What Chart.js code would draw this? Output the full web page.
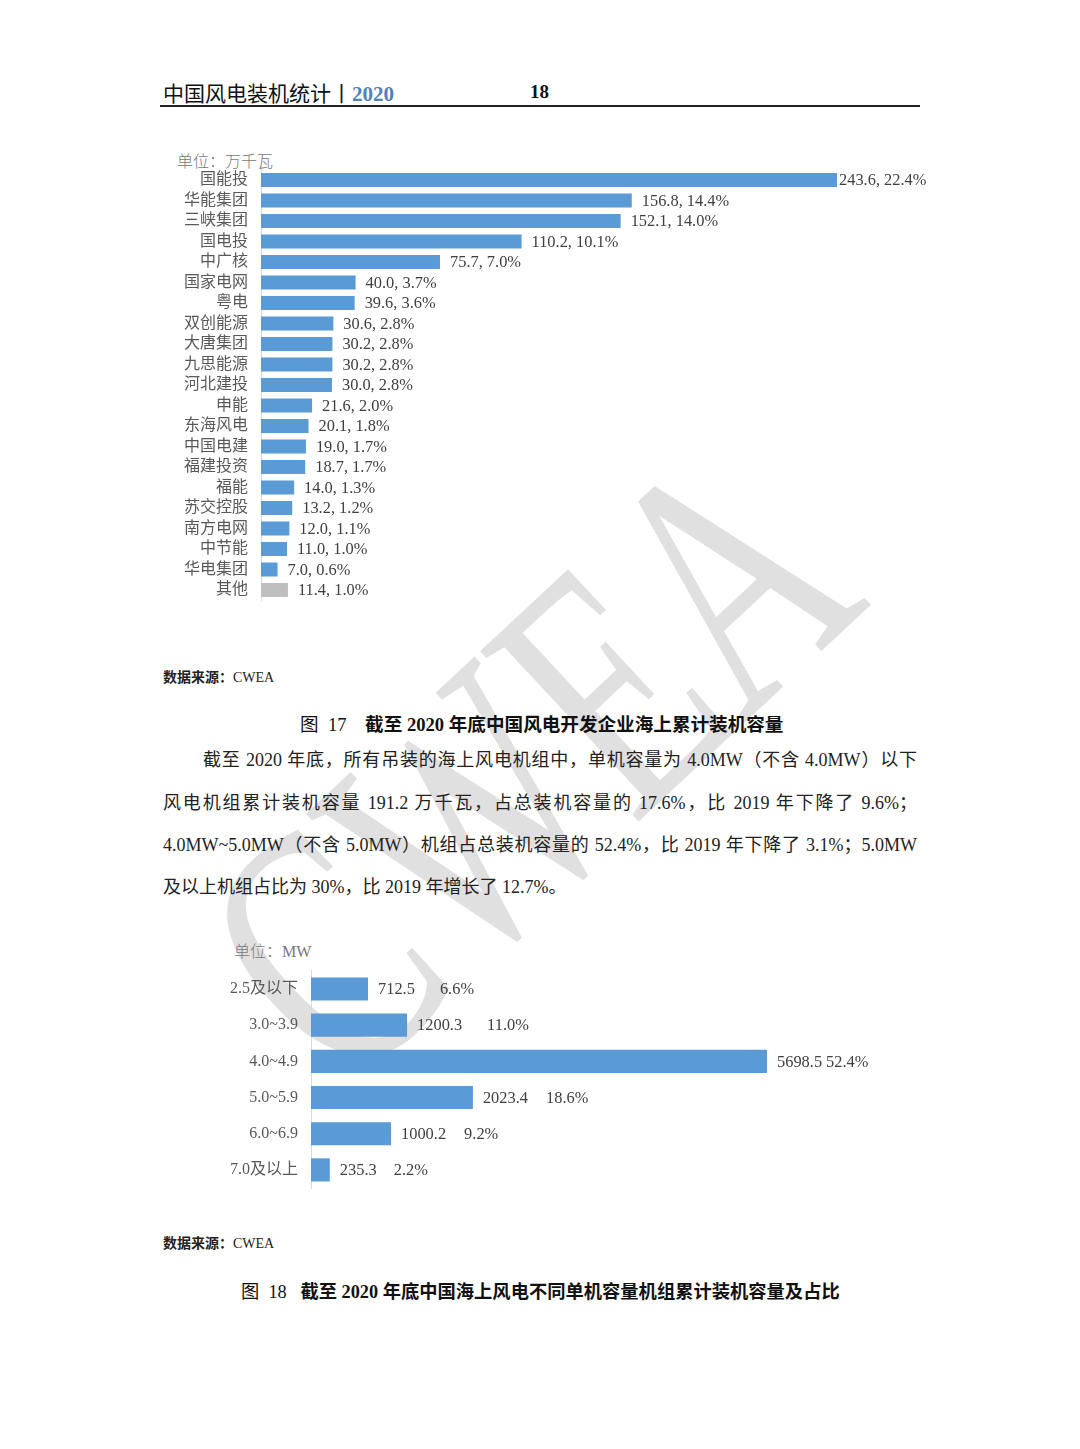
<!DOCTYPE html>
<html>
<head>
<meta charset="utf-8">
<script src="https://cdn.jsdelivr.net/npm/chart.js@4/dist/chart.umd.min.js"></script>
<style>
  html, body { margin: 0; padding: 0; background: #fff; }
  body { width: 1080px; height: 1449px; position: relative; overflow: hidden;
         font-family: 'Liberation Serif', 'Noto Sans CJK SC', serif; color: #222; }
  .abs { position: absolute; white-space: nowrap; }
  .mark { position: absolute; left: 527px; top: 762px; line-height: 1;
          transform: translate(-50%, -50%) rotate(-43deg) scale(1, 1.45);
          font-family: 'Liberation Serif', serif; font-size: 245px; color: #e0e0e0; z-index: 0;
          white-space: nowrap; }
  .box { position: absolute; z-index: 1; }
  .para { position: absolute; z-index: 1; font-size: 18px; line-height: 24px; text-align: justify;
          text-align-last: justify; white-space: nowrap; color: #222; }
  .cap { position: absolute; z-index: 1; line-height: 24px; font-weight: bold; color: #111; white-space: nowrap;
         font-family: 'Liberation Serif', 'Noto Sans CJK SC'; }
  .cap span { font-weight: normal; }
</style>
</head>
<body>
<div class="mark">CWEA</div>

<div class="abs" style="left:163px;top:79px;line-height:26px;font-size:21px;font-family:'Noto Sans CJK SC';color:#111;">
  中国风电装机统计丨<span style="font-family:'Liberation Serif';font-weight:bold;color:#4F81BD;">2020</span>
</div>
<div class="abs" style="left:530px;top:80px;line-height:24px;font-size:19px;font-weight:bold;color:#111;">18</div>
<div class="abs" style="left:160px;top:105px;width:760px;height:2px;background:#222;"></div>

<div class="abs" style="left:177px;top:149px;line-height:22px;font-size:16px;color:#777;font-family:'Noto Sans CJK SC';font-weight:300;">单位：万千瓦</div>
<div class="box" style="left:150px;top:150px;width:790px;height:460px;"><canvas id="c1"></canvas></div>

<div class="abs" style="left:163px;top:666px;line-height:20px;font-size:14px;color:#222;"><span style="font-family:'Noto Sans CJK SC';font-weight:bold;">数据来源：</span>CWEA</div>
<div class="cap" style="left:300px;top:713px;font-size:18.6px;"><span>图&nbsp;&nbsp;17</span>&nbsp;&nbsp;&nbsp;&nbsp;截至 2020 年底中国风电开发企业海上累计装机容量</div>

<div class="para" style="left:203px;top:748px;width:714px;">截至 2020 年底，所有吊装的海上风电机组中，单机容量为 4.0MW（不含 4.0MW）以下</div>
<div class="para" style="left:163px;top:791px;width:754px;">风电机组累计装机容量 191.2 万千瓦，占总装机容量的 17.6%，比 2019 年下降了 9.6%；</div>
<div class="para" style="left:163px;top:833px;width:754px;">4.0MW~5.0MW（不含 5.0MW）机组占总装机容量的 52.4%，比 2019 年下降了 3.1%；5.0MW</div>
<div class="para" style="left:163px;top:875px;text-align-last:left;">及以上机组占比为 30%，比 2019 年增长了 12.7%。</div>

<div class="abs" style="left:234px;top:939px;line-height:22px;font-size:16px;color:#777;font-family:'Noto Sans CJK SC';font-weight:300;">单位：<span style="font-family:'Liberation Serif'">MW</span></div>
<div class="box" style="left:150px;top:940px;width:790px;height:260px;"><canvas id="c2"></canvas></div>

<div class="abs" style="left:163px;top:1232px;line-height:20px;font-size:14px;color:#222;"><span style="font-family:'Noto Sans CJK SC';font-weight:bold;">数据来源：</span>CWEA</div>
<div class="cap" style="left:241px;top:1280px;font-size:18.3px;"><span>图&nbsp;&nbsp;18</span>&nbsp;&nbsp;&nbsp;截至 2020 年底中国海上风电不同单机容量机组累计装机容量及占比</div>

<script>
// Fig 17: developer offshore cumulative capacity (万千瓦)
const devNames = ['国能投', '华能集团', '三峡集团', '国电投', '中广核', '国家电网', '粤电', '双创能源', '大唐集团',
  '九思能源', '河北建投', '申能', '东海风电', '中国电建', '福建投资', '福能', '苏交控股', '南方电网', '中节能', '华电集团', '其他'];
const devValues = [243.6, 156.8, 152.1, 110.2, 75.7, 40.0, 39.6, 30.6, 30.2, 30.2, 30.0, 21.6, 20.1, 19.0, 18.7, 14.0, 13.2, 12.0, 11.0, 7.0, 11.4];
const devShares = ['22.4%', '14.4%', '14.0%', '10.1%', '7.0%', '3.7%', '3.6%', '2.8%', '2.8%', '2.8%', '2.8%', '2.0%', '1.8%', '1.7%', '1.7%', '1.3%', '1.2%', '1.1%', '1.0%', '0.6%', '1.0%'];

// Fig 18: capacity by turbine rating (MW)
const sizeClasses = ['2.5及以下', '3.0~3.9', '4.0~4.9', '5.0~5.9', '6.0~6.9', '7.0及以上'];
const sizeValues = [712.5, 1200.3, 5698.5, 2023.4, 1000.2, 235.3];
const sizeShares = ['6.6%', '11.0%', '52.4%', '18.6%', '9.2%', '2.2%'];

const BLUE = '#5B9BD5';
const GREY = '#BFBFBF';
const tickFont = { family: "'Liberation Serif', 'Noto Sans CJK SC'", size: 16 };
const labelGaps2 = [25, 25, 4, 18, 18, 17];

// draws value labels at the end of each bar (no datalabels plugin available)
function barLabels(textFn, gapFn) {
  return {
    id: 'barLabels',
    afterDatasetsDraw(chart) {
      const ctx = chart.ctx;
      const meta = chart.getDatasetMeta(0);
      ctx.save();
      ctx.font = "16.4px 'Liberation Serif', 'Noto Sans CJK SC'";
      ctx.fillStyle = '#404040';
      ctx.textBaseline = 'middle';
      ctx.textAlign = 'left';
      meta.data.forEach((bar, i) => {
        const parts = textFn(i);
        let x = bar.x + (i === 0 && chart.canvas.id === 'c1' ? 2 : 10);
        parts.forEach((t, k) => {
          ctx.fillText(t, x, bar.y + 1);
          x += ctx.measureText(t).width + (gapFn ? gapFn(i) : 0);
        });
      });
      ctx.restore();
    }
  };
}

function yAxis(width) {
  return {
    border: { display: true, color: '#D9D9D9', width: 1 },
    grid: { display: false, drawTicks: false },
    ticks: { color: '#595959', font: tickFont, padding: 13, autoSkip: false },
    afterFit(scale) {
      scale.width = width;
      scale.paddingTop = 0;
      scale.paddingBottom = 0;
    }
  };
}

new Chart(document.getElementById('c1'), {
  type: 'bar',
  data: {
    labels: devNames,
    datasets: [{
      data: devValues,
      backgroundColor: devNames.map(n => n === '其他' ? GREY : BLUE),
      categoryPercentage: 1,
      barPercentage: 0.68
    }]
  },
  options: {
    indexAxis: 'y',
    responsive: true,
    maintainAspectRatio: false,
    animation: false,
    layout: { padding: { top: 19.75, right: 103, bottom: 9.75, left: 0 } },
    plugins: { legend: { display: false }, tooltip: { enabled: false } },
    scales: {
      x: { display: false, min: 0, max: Math.max(...devValues) },
      y: yAxis(111)
    }
  },
  plugins: [barLabels(i => [devValues[i].toFixed(1) + ', ' + devShares[i]])]
});

new Chart(document.getElementById('c2'), {
  type: 'bar',
  data: {
    labels: sizeClasses,
    datasets: [{
      data: sizeValues,
      backgroundColor: BLUE,
      categoryPercentage: 1,
      barPercentage: 0.64
    }]
  },
  options: {
    indexAxis: 'y',
    responsive: true,
    maintainAspectRatio: false,
    animation: false,
    layout: { padding: { top: 30.9, right: 173, bottom: 12, left: 0 } },
    plugins: { legend: { display: false }, tooltip: { enabled: false } },
    scales: {
      x: { display: false, min: 0, max: Math.max(...sizeValues) },
      y: yAxis(161)
    }
  },
  plugins: [barLabels(i => [sizeValues[i].toFixed(1), sizeShares[i]], i => labelGaps2[i])]
});
</script>
</body>
</html>
